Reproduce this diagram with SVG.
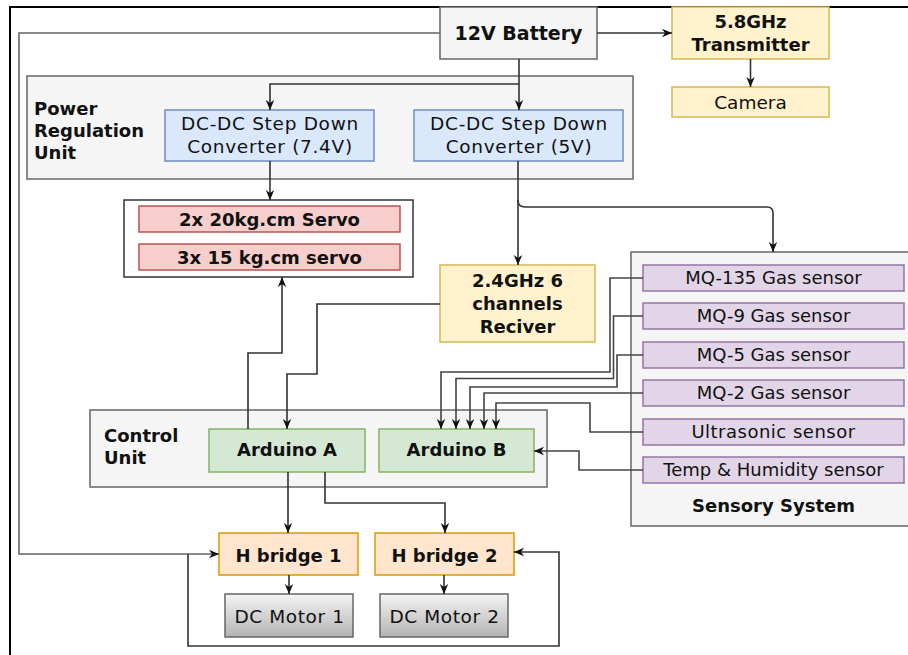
<svg xmlns="http://www.w3.org/2000/svg" width="908" height="655" viewBox="0 0 908 655">
<style>
.t{font-family:"DejaVu Sans",Verdana,"Liberation Sans",sans-serif;font-size:18px;fill:#111;text-anchor:middle}
.b{font-weight:bold}
.l{text-anchor:start}
.w{font-size:18.5px;letter-spacing:0.7px}
.grp{fill:#f5f5f5;stroke:#666;stroke-width:1.5}
.blue{fill:#dae8fc;stroke:#6c8ebf;stroke-width:1.5}
.yel{fill:#fff2cc;stroke:#d6b656;stroke-width:1.5}
.red{fill:#f8cecc;stroke:#b85450;stroke-width:1.5}
.pur{fill:#e1d5e7;stroke:#9673a6;stroke-width:1.5}
.grn{fill:#d5e8d4;stroke:#82b366;stroke-width:1.5}
.org{fill:#ffe6cc;stroke:#d79b00;stroke-width:1.5}
.mot{fill:url(#mg);stroke:#666;stroke-width:1.5}
.ca{fill:none;stroke:#333;stroke-width:1.6;marker-end:url(#arr)}
.cs{fill:none;stroke:#444;stroke-width:1.6;marker-end:url(#arr)}
</style>
<defs>
<marker id="arr" viewBox="0 0 10 10" refX="10" refY="5" markerWidth="10" markerHeight="10" markerUnits="userSpaceOnUse" orient="auto">
<path d="M0,0.8 L10,5 L0,9.2 L3,5 Z" fill="#111"/>
</marker>
<linearGradient id="mg" x1="0" y1="0" x2="0" y2="1">
<stop offset="0" stop-color="#f5f5f5"/>
<stop offset="1" stop-color="#b3b3b3"/>
</linearGradient>
</defs>
<rect width="908" height="655" fill="#fff"/>

<g id="frame">
<path d="M10,655 V7 H908" fill="none" stroke="#000" stroke-width="2"/>
</g>

<g id="power-regulation-unit">
<rect class="grp" x="27" y="76" width="606" height="103"/>
<text class="t b l" x="34" y="115">Power</text>
<text class="t b l" x="34" y="137">Regulation</text>
<text class="t b l" x="34" y="158.5">Unit</text>
</g>

<g id="control-unit">
<rect class="grp" x="90" y="410" width="457" height="77"/>
<text class="t b l" x="104" y="441.5">Control</text>
<text class="t b l" x="104" y="463.5">Unit</text>
</g>

<g id="sensory-system">
<rect class="grp" x="631" y="252" width="290" height="274"/>
<text class="t b" x="773.5" y="511.5">Sensory System</text>
</g>

<g id="battery">
<rect class="grp" x="440" y="7" width="157" height="52"/>
<text class="t b" x="518.5" y="39.5" style="font-size:19px">12V Battery</text>
</g>

<g id="transmitter">
<rect class="yel" x="672" y="7" width="157" height="52"/>
<text class="t b" x="750.5" y="27.5">5.8GHz</text>
<text class="t b" x="750.5" y="50.5">Transmitter</text>
</g>

<g id="camera">
<rect class="yel" x="672" y="87" width="157" height="30"/>
<text class="t" x="750.5" y="108.5" style="font-size:18.5px">Camera</text>
</g>

<g id="converter-7v4">
<rect class="blue" x="165" y="110" width="209" height="51"/>
<text class="t w" x="270" y="130">DC-DC Step Down</text>
<text class="t w" x="270" y="152.5">Converter (7.4V)</text>
</g>

<g id="converter-5v">
<rect class="blue" x="414" y="110" width="209" height="51"/>
<text class="t w" x="519" y="130">DC-DC Step Down</text>
<text class="t w" x="519" y="152.5">Converter (5V)</text>
</g>

<g id="servos">
<rect x="124" y="200" width="289" height="77" fill="#fff" stroke="#333" stroke-width="1.5"/>
<g id="servo-20kg">
<rect class="red" x="139" y="206" width="261" height="26"/>
<text class="t b" x="269.5" y="225.5">2x 20kg.cm Servo</text>
</g>
<g id="servo-15kg">
<rect class="red" x="139" y="244" width="261" height="26"/>
<text class="t b" x="269.5" y="264">3x 15 kg.cm servo</text>
</g>
</g>

<g id="receiver">
<rect class="yel" x="440" y="265" width="155" height="77"/>
<text class="t b" x="517.5" y="286.5">2.4GHz 6</text>
<text class="t b" x="517.5" y="309.5">channels</text>
<text class="t b" x="517.5" y="332.5">Reciver</text>
</g>

<g id="mq135">
<rect class="pur" x="643" y="265" width="261" height="26"/>
<text class="t" x="773.5" y="284.3">MQ-135 Gas sensor</text>
</g>
<g id="mq9">
<rect class="pur" x="643" y="303" width="261" height="26"/>
<text class="t" x="773.5" y="322.3">MQ-9 Gas sensor</text>
</g>
<g id="mq5">
<rect class="pur" x="643" y="342" width="261" height="26"/>
<text class="t" x="773.5" y="361.3">MQ-5 Gas sensor</text>
</g>
<g id="mq2">
<rect class="pur" x="643" y="380" width="261" height="26"/>
<text class="t" x="773.5" y="399.3">MQ-2 Gas sensor</text>
</g>
<g id="ultrasonic">
<rect class="pur" x="643" y="419" width="261" height="26"/>
<text class="t" x="773.5" y="438.3" style="letter-spacing:0.5px">Ultrasonic sensor</text>
</g>
<g id="temp-humidity">
<rect class="pur" x="643" y="457" width="261" height="26"/>
<text class="t" x="773.5" y="476.3">Temp &amp; Humidity sensor</text>
</g>

<g id="arduino-a">
<rect class="grn" x="209" y="429" width="156" height="43"/>
<text class="t b" x="287" y="456">Arduino A</text>
</g>
<g id="arduino-b">
<rect class="grn" x="379" y="429" width="155" height="43"/>
<text class="t b" x="456.5" y="456">Arduino B</text>
</g>

<g id="hbridge-1">
<rect class="org" x="219" y="533" width="139" height="42"/>
<text class="t b" x="288.5" y="561.5">H bridge 1</text>
</g>
<g id="hbridge-2">
<rect class="org" x="375" y="533" width="139" height="42"/>
<text class="t b" x="444.5" y="561.5">H bridge 2</text>
</g>

<g id="motor-1">
<rect class="mot" x="225" y="594" width="128" height="43"/>
<text class="t" x="289.5" y="622.5" style="font-size:18.5px;letter-spacing:0.6px">DC Motor 1</text>
</g>
<g id="motor-2">
<rect class="mot" x="380" y="594" width="128" height="43"/>
<text class="t" x="444.5" y="622.5" style="font-size:18.5px;letter-spacing:0.6px">DC Motor 2</text>
</g>

<g id="connectors">
<path class="ca" d="M597,33 H672"/>
<path class="ca" d="M750.5,59 V87"/>
<path class="ca" d="M519,59 V110"/>
<path class="ca" d="M519,84 H270 V110"/>
<path class="ca" d="M270,161 V200"/>
<path class="ca" d="M518,161 V265"/>
<path class="ca" d="M518,200 Q518,207 525,207 H767 Q773,207 773,213 V252"/>
<path class="ca" d="M248,429 V353 H282 V277"/>
<path class="ca" d="M440,304 H317 V374 H287 V429"/>
<path class="cs" d="M643,278 H610 V372 H441 V429"/>
<path class="cs" d="M643,316 H613.5 V378.5 H456 V429"/>
<path class="cs" d="M643,355 H617 V387 H470 V429"/>
<path class="cs" d="M643,393 H484 V429"/>
<path class="cs" d="M643,432 H590 V403 H496 V429"/>
<path class="cs" d="M643,470 H579 V451 H534"/>
<path class="ca" d="M288,472 V533"/>
<path class="ca" d="M325,472 V503 H445 V533"/>
<path class="ca" d="M440,33 H19 V554 H219" style="stroke:#666"/>
<path class="ca" d="M188,554 V646 H559 V552 H514"/>
<path class="ca" d="M289,575 V594"/>
<path class="ca" d="M444,575 V594"/>
</g>
</svg>
